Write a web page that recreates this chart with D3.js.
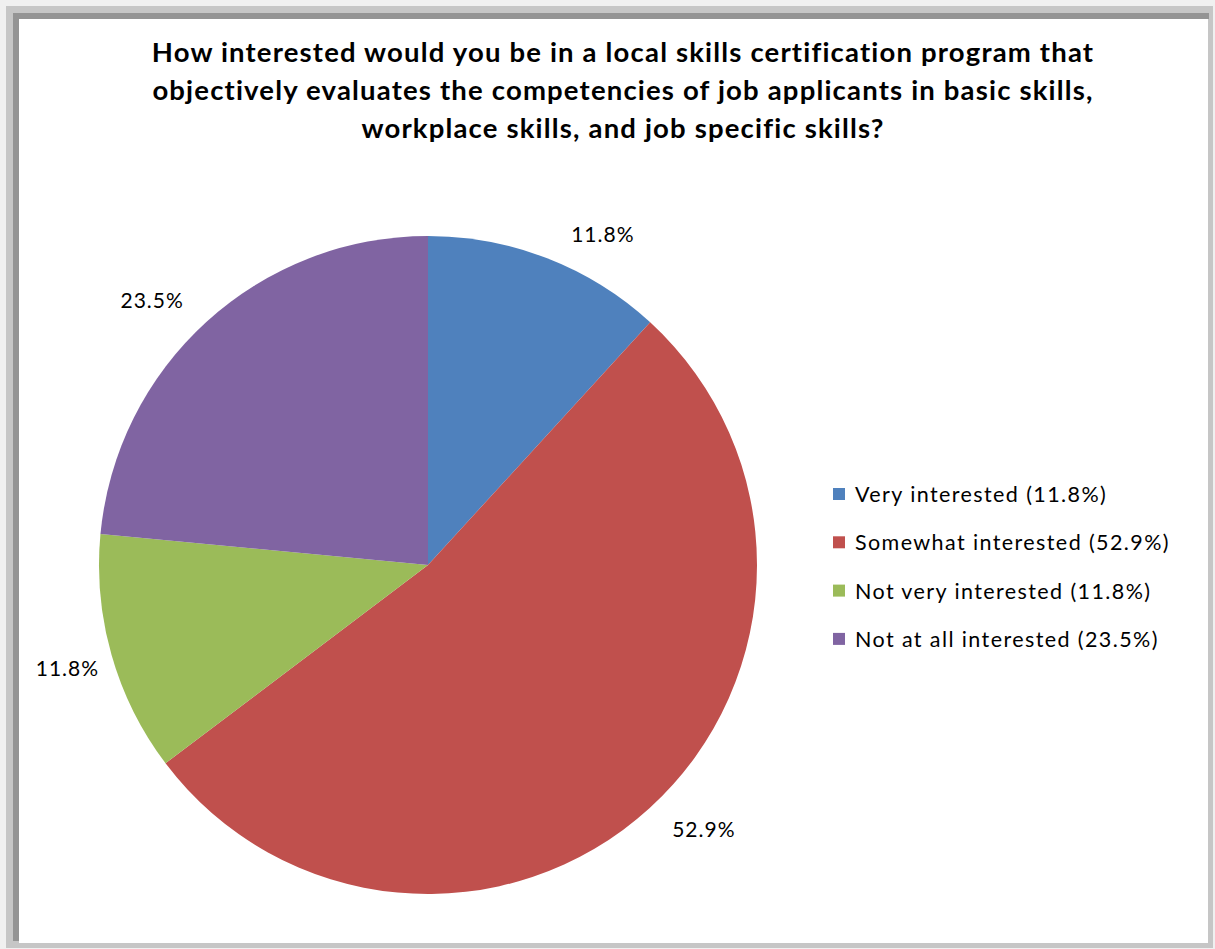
<!DOCTYPE html>
<html><head><meta charset="utf-8">
<script src="https://cdn.jsdelivr.net/npm/d3@7"></script>
<style>
html,body{margin:0;padding:0;background:#fff;}
svg{display:block;}
</style></head>
<body>
<svg id="chart" width="1215" height="949"></svg>
<script>
const titleLines = [
  "How interested would you be in a local skills certification program that",
  "objectively evaluates the competencies of job applicants in basic skills,",
  "workplace skills, and job specific skills?"
];
const categories = ["Very interested", "Somewhat interested", "Not very interested", "Not at all interested"];
const values = [11.8, 52.9, 11.8, 23.5];
const colors = ["#4f81bd", "#c0504d", "#9bbb59", "#8064a2"];

const svg = d3.select("#chart");
const W = 1215, H = 949;
const font = "Lato, 'Open Sans', sans-serif";

// frame
svg.append("rect").attr("x",0).attr("y",0).attr("width",W).attr("height",H).attr("fill","#f0f0f0");
svg.append("rect").attr("x",6).attr("y",6).attr("width",1207).attr("height",942).attr("fill","#c6c6c6");
svg.append("rect").attr("x",13).attr("y",13).attr("width",1196).attr("height",6).attr("fill","#949494");
svg.append("rect").attr("x",13).attr("y",13).attr("width",6).attr("height",928).attr("fill","#949494");
svg.append("rect").attr("x",19).attr("y",19).attr("width",1189).attr("height",924).attr("fill","#ffffff");

// title
const titleG = svg.append("g");
const tt = titleG.selectAll("text").data(titleLines).join("text")
  .attr("x", 623).attr("y", (d,i)=> 62 + i*38)
  .attr("text-anchor","middle")
  .attr("font-family", font).attr("font-weight","bold").attr("font-size", 27.5)
  .attr("fill","#000")
  .text(d=>d);
{
  const n0 = tt.nodes()[0];
  const w0 = n0.getComputedTextLength();
  const ls = (942 - w0) / (titleLines[0].length - 1);
  tt.attr("letter-spacing", ls);
}

const cx = 428, cy = 565, r = 329;
const pie = d3.pie().sort(null).value(d=>d.v);
const data = categories.map((c,i)=>({c, v: values[i], col: colors[i]}));
const arcs = pie(data);
const arc = d3.arc().innerRadius(0).outerRadius(r);

const g = svg.append("g").attr("transform",`translate(${cx},${cy})`);
g.selectAll("path").data(arcs).join("path")
  .attr("d", arc).attr("fill", d=>d.data.col);

// labels outside
const lblR = 345, offY = 9;
g.selectAll("text.lbl").data(arcs).join("text")
  .attr("class","lbl")
  .attr("x", d=>{ const a=(d.startAngle+d.endAngle)/2; const ux=Math.sin(a), uy=Math.cos(a); return lblR*ux + Math.sign(ux)*(20 + 32*Math.abs(uy)); })
  .attr("y", d=>{ const a=(d.startAngle+d.endAngle)/2; const uy=-Math.cos(a); return lblR*uy + Math.sign(uy)*offY; })
  .attr("text-anchor","middle").attr("dy","0.35em")
  .attr("font-family", font).attr("font-size", 21).attr("letter-spacing", 1)
  .attr("fill","#000")
  .text(d=>d.data.v.toFixed(1)+"%");

// legend
const leg = svg.append("g").attr("transform","translate(833,488)");
const rows = leg.selectAll("g").data(data).join("g").attr("transform",(d,i)=>`translate(0,${i*48.3})`);
rows.append("rect").attr("x",0).attr("y",0).attr("width",12).attr("height",12).attr("fill",d=>d.col);
rows.append("text").attr("x",22).attr("y",14)
  .attr("font-family", font).attr("font-size", 21.5).attr("letter-spacing", 1.4).attr("fill","#000")
  .text(d=>`${d.c} (${d.v.toFixed(1)}%)`);
</script>
</body></html>
